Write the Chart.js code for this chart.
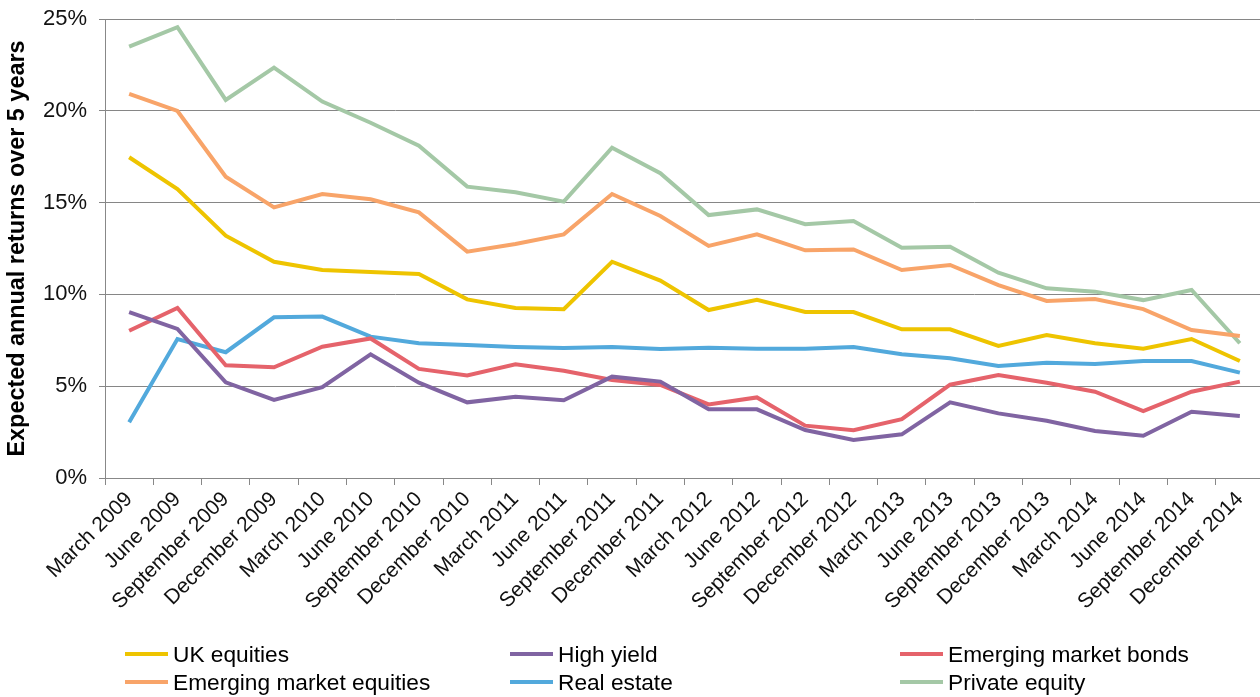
<!DOCTYPE html>
<html>
<head>
<meta charset="utf-8">
<script src="https://cdn.jsdelivr.net/npm/chart.js@4"></script>
<style>
  html, body { margin: 0; padding: 0; background: #fff; overflow: hidden; }
  #wrap { position: relative; width: 1266px; height: 697px; }
  #legend { position: absolute; left: 0; top: 0; width: 1260px; height: 697px; pointer-events: none;
            font-family: "Liberation Sans", Arial, sans-serif; font-size: 22.7px; color: #000; }
  .item { position: absolute; display: flex; align-items: center; white-space: nowrap; }
  .swatch { width: 43px; height: 4px; margin-right: 5px; }
</style>
</head>
<body>
<div id="wrap">
  <canvas id="returnsChart"></canvas>
  <div id="legend"></div>
</div>
<script>
const quarters = [
    'March 2009', 'June 2009', 'September 2009', 'December 2009',
    'March 2010', 'June 2010', 'September 2010', 'December 2010',
    'March 2011', 'June 2011', 'September 2011', 'December 2011',
    'March 2012', 'June 2012', 'September 2012', 'December 2012',
    'March 2013', 'June 2013', 'September 2013', 'December 2013',
    'March 2014', 'June 2014', 'September 2014', 'December 2014'
];

// expected annual returns, %
const ukEquities = [17.47, 15.74, 13.2, 11.78, 11.33, 11.22, 11.11, 9.73, 9.26, 9.19, 11.78, 10.75, 9.15, 9.7, 9.04, 9.04, 8.1, 8.1, 7.19, 7.79, 7.34, 7.04, 7.57, 6.37];
const highYield = [9.04, 8.12, 5.21, 4.25, 4.95, 6.74, 5.19, 4.12, 4.43, 4.23, 5.52, 5.25, 3.74, 3.74, 2.61, 2.07, 2.38, 4.12, 3.52, 3.12, 2.56, 2.3, 3.61, 3.38];
const emBonds = [8.02, 9.26, 6.14, 6.03, 7.15, 7.6, 5.94, 5.59, 6.19, 5.84, 5.34, 5.07, 4.01, 4.39, 2.85, 2.6, 3.2, 5.08, 5.61, 5.19, 4.7, 3.65, 4.7, 5.25];
const emEquities = [20.92, 19.99, 16.41, 14.74, 15.47, 15.18, 14.47, 12.33, 12.75, 13.27, 15.47, 14.27, 12.64, 13.27, 12.4, 12.45, 11.33, 11.6, 10.51, 9.64, 9.75, 9.2, 8.06, 7.73];
const realEstate = [3.03, 7.57, 6.85, 8.75, 8.79, 7.7, 7.34, 7.24, 7.14, 7.08, 7.14, 7.03, 7.1, 7.04, 7.04, 7.14, 6.74, 6.52, 6.1, 6.28, 6.21, 6.37, 6.37, 5.74];
const privateEquity = [23.49, 24.55, 20.59, 22.35, 20.5, 19.35, 18.1, 15.87, 15.56, 15.05, 17.99, 16.6, 14.32, 14.63, 13.82, 14.0, 12.54, 12.6, 11.18, 10.33, 10.15, 9.69, 10.24, 7.34];

const seriesNames = ['UK equities', 'High yield', 'Emerging market bonds', 'Emerging market equities', 'Real estate', 'Private equity'];
const seriesValues = [ukEquities, highYield, emBonds, emEquities, realEstate, privateEquity];
const seriesColors = ['#EEC400', '#8064A2', '#E5636B', '#F8A469', '#52A9DC', '#A4C8A6'];

const yTicks = [0, 5, 10, 15, 20, 25];

const FONT = '"Liberation Sans", Arial, sans-serif';

const datasets = seriesNames.map((name, i) => ({
    label: name,
    data: seriesValues[i],
    borderColor: seriesColors[i],
    backgroundColor: seriesColors[i],
    borderWidth: 4,
    pointRadius: 0,
    tension: 0,
    fill: false
}));

const ctx = document.getElementById('returnsChart').getContext('2d');
const chart = new Chart(ctx, {
    type: 'line',
    data: { labels: quarters, datasets: datasets },
    options: {
        responsive: true,
        maintainAspectRatio: false,
        animation: false,
        layout: { padding: { top: 19, right: 2, left: 0, bottom: 0 } },
        plugins: { legend: { display: false }, tooltip: { enabled: false } },
        scales: {
            x: {
                offset: true,
                grid: { drawOnChartArea: false, drawTicks: true, tickLength: 7, color: '#888', offset: true },
                border: { color: '#888', width: 1 },
                ticks: {
                    autoSkip: false, maxRotation: 45, minRotation: 45, padding: 2,
                    color: '#111', font: { family: FONT, size: 21 }
                },
                afterFit: (scale) => { scale.height = 219; }
            },
            y: {
                min: 0, max: 25,
                afterBuildTicks: (scale) => { scale.ticks = yTicks.map(v => ({ value: v })); },
                grid: { color: '#868686', lineWidth: 1, tickLength: 6 },
                border: { color: '#888', width: 1 },
                ticks: {
                    padding: 12, color: '#111', font: { family: FONT, size: 22 },
                    callback: (v) => v + '%'
                },
                title: {
                    display: true, text: 'Expected annual returns over 5 years',
                    color: '#000', font: { family: FONT, size: 23.4, weight: 'bold' },
                    padding: { top: 4, bottom: 0 }
                },
                afterFit: (scale) => {
                    scale.width = 105;
                    scale.paddingTop = 0;
                    scale.paddingBottom = 0;
                }
            }
        }
    }
});

// legend in three columns, two rows
const legendEl = document.getElementById('legend');
const colLeft = [125, 510, 900];
const rowTop = [654, 682];
chart.data.datasets.forEach((ds, i) => {
    const item = document.createElement('div');
    item.className = 'item';
    item.style.left = colLeft[i % 3] + 'px';
    item.style.top = (rowTop[Math.floor(i / 3)] - 13) + 'px';
    item.style.height = '26px';
    const sw = document.createElement('span');
    sw.className = 'swatch';
    sw.style.background = ds.borderColor;
    const txt = document.createElement('span');
    txt.textContent = ds.label;
    item.appendChild(sw);
    item.appendChild(txt);
    legendEl.appendChild(item);
});
</script>
</body>
</html>
